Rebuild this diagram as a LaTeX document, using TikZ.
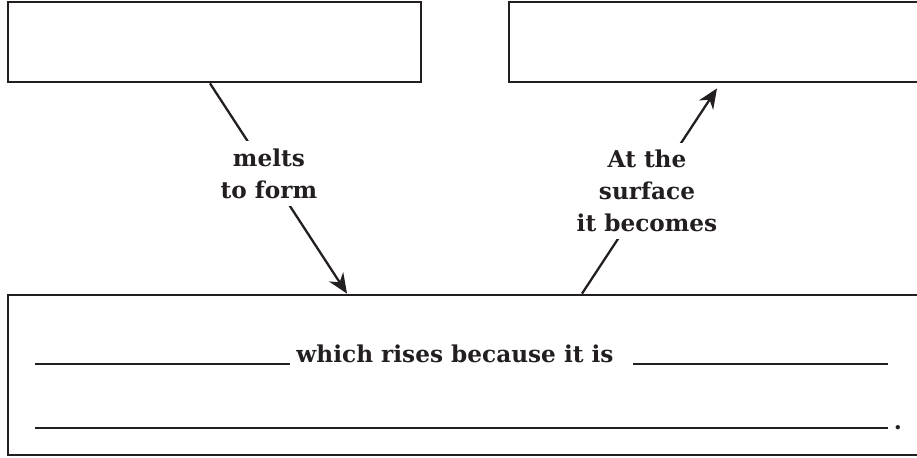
\documentclass[tikz,border=0pt]{standalone}
\usepackage{fontspec}
\setmainfont{DejaVu Serif}
\usepackage{xcolor}
\usepackage{tikz}
\usetikzlibrary{arrows.meta, positioning, calc}
\definecolor{mydark}{RGB}{35,31,32}
\tikzset{
  box/.style={rectangle, draw=mydark, fill=white, line width=1.6pt, inner sep=0pt},
  arrow/.style={-{Stealth[length=0.4cm, width=0.34cm]}, line width=1.3pt, color=mydark},
  lbl/.style={fill=white, align=center, text=mydark, inner sep=0.15cm,
    font=\fontsize{13.2}{18.2}\selectfont\bfseries},
  txt/.style={text=mydark, inner sep=0pt, font=\fontsize{13.2}{18.2}\selectfont\bfseries},
  blank/.style={line width=0.7pt, color=mydark}
}

\begin{document}
\begin{tikzpicture}
  \useasboundingbox (0,0) rectangle (18.34,9.14);
  \node[box, minimum width=8.26cm, minimum height=1.6cm] (n1) at (4.29,8.30) {};
  \node[box, minimum width=9.02cm, minimum height=1.6cm] (n2) at (14.69,8.30) {};
  \node[box, minimum width=19.04cm, minimum height=3.2cm] (n3) at (9.68,1.64) {};
  \draw[arrow] ([xshift=-0.09cm]n1.south) -- node[lbl, pos=0.43] (l1) {melts\\to form}
    ([xshift=-2.74cm]n3.north);
  \draw[arrow] ([xshift=1.96cm]n3.north) -- node[lbl, pos=0.5, xshift=-0.05cm] (l2) {At the\\surface\\it becomes}
    ([xshift=-0.35cm, yshift=-0.1cm]n2.south);
  % blanks to fill in
  \node[txt, anchor=base] (t1) at (9.1,1.90) {which rises because it is};
  \draw[blank] (0.7,1.86) -- (5.8,1.86);
  \draw[blank] (12.66,1.86) -- (17.76,1.86);
  \draw[blank] (0.7,0.58) -- (17.76,0.58);
  \node[txt, anchor=base] (p1) at (17.96,0.56) {.};
\end{tikzpicture}
\end{document}
